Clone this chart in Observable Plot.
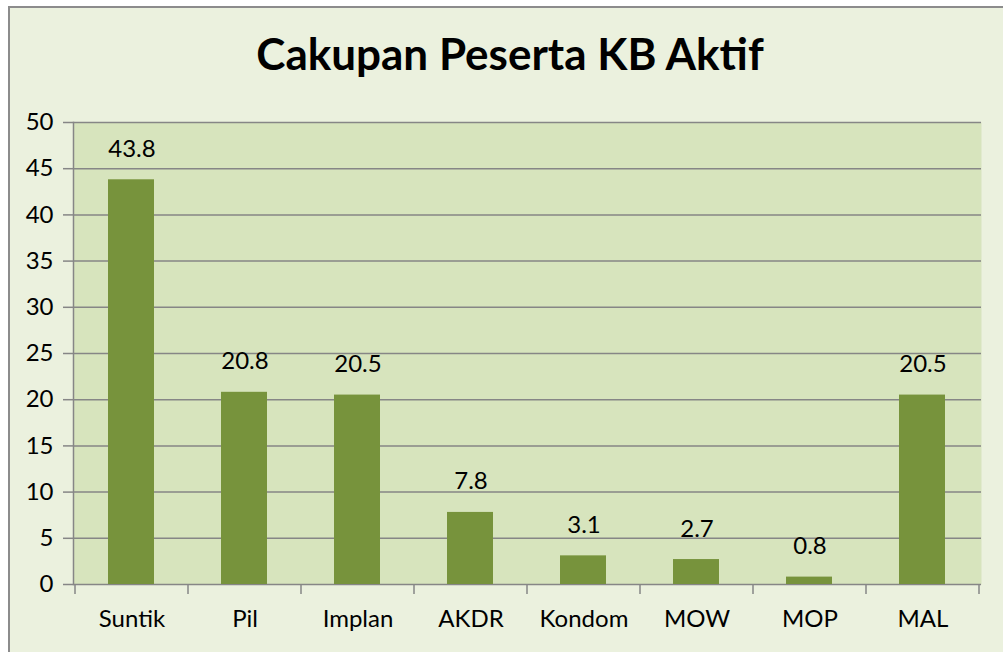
<!DOCTYPE html>
<html><head><meta charset="utf-8">
<script src="https://cdn.jsdelivr.net/npm/d3@7"></script>
<script src="https://cdn.jsdelivr.net/npm/@observablehq/plot@0.6"></script>
<style>
body{margin:0;background:#fff;font-family:Lato,sans-serif;}
#frame{position:absolute;left:8px;top:6px;width:1000px;height:660px;border:2px solid #8c8c8c;background:#EBF1DE;overflow:hidden;}
#title{position:absolute;left:0;top:19px;width:1000px;text-align:center;font-weight:bold;font-size:44px;line-height:1.2;color:#000;}
#chart{position:absolute;left:0;top:92px;}
</style></head><body>
<div id="frame"><div id="title">Cakupan Peserta KB Aktif</div><div id="chart"></div></div>
<script>
const categories = ["Suntik", "Pil", "Implan", "AKDR", "Kondom", "MOW", "MOP", "MAL"];
const values = [43.8, 20.8, 20.5, 7.8, 3.1, 2.7, 0.8, 20.5];
const yTicks = [0, 5, 10, 15, 20, 25, 30, 35, 40, 45, 50];
const data = categories.map((c, i) => ({category: c, value: values[i]}));

const gridColor = "#868686";

// category boundary tick marks below the x axis, placed through the band scale
function boundaryTicks(index, scales, vals, dims) {
  const x = scales.x;
  const bw = x.bandwidth ? x.bandwidth() : (dims.width - dims.marginLeft - dims.marginRight) / categories.length;
  const y0 = scales.y(0);
  const g = d3.create("svg:g");
  const xs = categories.map(c => x(c));
  xs.push(x(categories[categories.length - 1]) + bw);
  g.selectAll("line").data(xs).join("line")
    .attr("x1", d => d).attr("x2", d => d)
    .attr("y1", y0).attr("y2", y0 + 10)
    .attr("stroke", gridColor).attr("stroke-width", 1.5);
  return g.node();
}

const chart = Plot.plot({
  width: 993,
  height: 552,
  marginLeft: 63,
  marginRight: 22,
  marginTop: 22,
  marginBottom: 68,
  style: {fontFamily: "Lato, sans-serif", background: "transparent", color: "#000"},
  x: {type: "band", domain: categories, padding: 0, label: null},
  y: {domain: [0, 50], label: null},
  marks: [
    Plot.frame({fill: "#D7E4BD", stroke: null}),
    Plot.ruleY(yTicks, {stroke: gridColor, strokeWidth: 1.5}),
    Plot.barY(data, {x: "category", y: "value", fill: "#77933C", insetLeft: 33, insetRight: 34}),
    Plot.frame({anchor: "left", stroke: gridColor, strokeWidth: 1.5}),
    Plot.axisY({ticks: yTicks, tickSize: 10, tickPadding: 10, fontSize: 24, stroke: gridColor, strokeWidth: 1.5, fill: "#000", label: null}),
    Plot.axisX({tickSize: 0, tickPadding: 25, fontSize: 24, fill: "#000", label: null}),
    boundaryTicks,
    Plot.text(data, {x: "category", y: "value", text: d => d.value.toFixed(1), lineAnchor: "bottom", dy: -23, fontSize: 24, fill: "#000"})
  ]
});
document.getElementById("chart").appendChild(chart);
</script>
</body></html>
